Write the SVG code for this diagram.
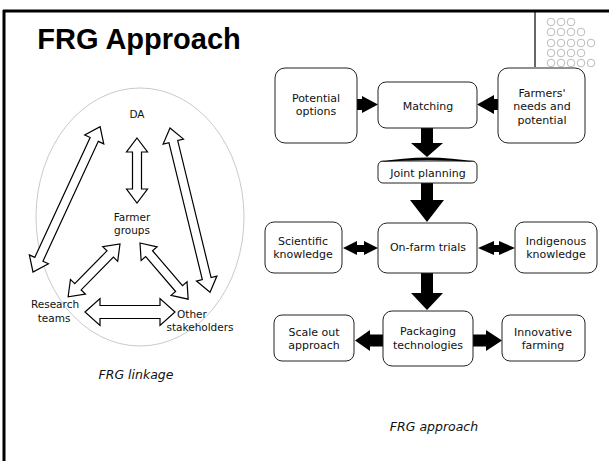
<svg xmlns="http://www.w3.org/2000/svg" width="609" height="461" viewBox="0 0 609 461">
<style>
  .t{font-family:"DejaVu Sans","Liberation Sans",sans-serif;fill:#111;text-anchor:middle}
  .bx{fill:#fff;stroke:#222;stroke-width:1}
  .ha{fill:#fff;stroke:#000;stroke-width:1.2;stroke-linejoin:miter}
  .sa{fill:#000;stroke:none}
  .dot{fill:none;stroke:#aaa;stroke-width:0.8}
  .lt{font-size:10.5px}
  .bt{font-size:11px}
  .cap{font-family:"DejaVu Sans","Liberation Sans",sans-serif;font-style:italic;font-size:12.5px;fill:#111;text-anchor:middle}
</style>
<rect width="609" height="461" fill="#fff"/>
<g id="frame">
  <line x1="3" y1="11" x2="609" y2="11" stroke="#000" stroke-width="3"/>
  <line x1="4" y1="10" x2="4" y2="461" stroke="#000" stroke-width="3"/>
  <line x1="535" y1="11" x2="535" y2="67" stroke="#000" stroke-width="1.2"/>
</g>
<g id="dots">
  <circle class="dot" cx="551" cy="22" r="3.8"/><circle class="dot" cx="561" cy="22" r="3.8"/><circle class="dot" cx="571" cy="22" r="3.8"/>
  <circle class="dot" cx="551" cy="32" r="3.8"/><circle class="dot" cx="561" cy="32" r="3.8"/><circle class="dot" cx="571" cy="32" r="3.8"/><circle class="dot" cx="581" cy="32" r="3.8"/>
  <circle class="dot" cx="551" cy="43" r="3.8"/><circle class="dot" cx="561" cy="43" r="3.8"/><circle class="dot" cx="571" cy="43" r="3.8"/><circle class="dot" cx="581" cy="43" r="3.8"/><circle class="dot" cx="591" cy="43" r="3.8"/>
  <circle class="dot" cx="551" cy="53" r="3.8"/><circle class="dot" cx="561" cy="53" r="3.8"/><circle class="dot" cx="571" cy="53" r="3.8"/><circle class="dot" cx="581" cy="53" r="3.8"/>
  <circle class="dot" cx="551" cy="63" r="3.8"/><circle class="dot" cx="561" cy="63" r="3.8"/><circle class="dot" cx="571" cy="63" r="3.8"/><circle class="dot" cx="581" cy="63" r="3.8"/><circle class="dot" cx="591" cy="63" r="3.8"/>
</g>
<text x="139" y="49" font-family="'Liberation Sans',sans-serif" font-weight="bold" font-size="29" text-anchor="middle" fill="#000">FRG Approach</text>

<g id="linkage">
  <ellipse cx="140" cy="217" rx="104" ry="129" fill="none" stroke="#bbb" stroke-width="0.8"/>
  <g id="connectors-left">
    <polygon class="ha" transform="translate(33,272) rotate(-65.2)" points="0,0 14,-10.5 14,-4.5 146,-4.5 146,-10.5 160,0 146,10.5 146,4.5 14,4.5 14,10.5"/>
    <polygon class="ha" transform="translate(137,138) rotate(90)" points="0,0 14,-10.5 14,-4.5 51,-4.5 51,-10.5 65,0 51,10.5 51,4.5 14,4.5 14,10.5"/>
    <polygon class="ha" transform="translate(170,128) rotate(76.3)" points="0,0 14,-10.5 14,-4.5 155,-4.5 155,-10.5 169,0 155,10.5 155,4.5 14,4.5 14,10.5"/>
    <polygon class="ha" transform="translate(120,244) rotate(134.5)" points="0,0 14,-10.5 14,-4.5 60,-4.5 60,-10.5 74,0 60,10.5 60,4.5 14,4.5 14,10.5"/>
    <polygon class="ha" transform="translate(140,243) rotate(49.4)" points="0,0 14,-10.5 14,-4.5 60,-4.5 60,-10.5 74,0 60,10.5 60,4.5 14,4.5 14,10.5"/>
    <polygon class="ha" transform="translate(85,312)" points="0,0 15,-13.5 15,-6.5 75,-6.5 75,-13.5 90,0 75,13.5 75,6.5 15,6.5 15,13.5"/>
  </g>
  <g id="n-da"><text class="t lt" x="137" y="118">DA</text></g>
  <g id="n-farmer-groups"><text class="t lt" x="132" y="221">Farmer</text><text class="t lt" x="132" y="234">groups</text></g>
  <g id="n-research"><text class="t lt" x="55" y="308">Research</text><text class="t lt" x="54" y="322">teams</text></g>
  <g id="n-other"><text class="t lt" x="192" y="318">Other</text><text class="t lt" x="200" y="331">stakeholders</text></g>
  <text class="cap" x="136" y="379">FRG linkage</text>
</g>

<g id="connectors">
  <polygon class="sa" points="357,99 362,99 362,96 378,104.5 362,113 362,110 357,110"/>
  <polygon class="sa" points="498,99 494,99 494,95 477,104.5 494,114 494,110 498,110"/>
  <polygon class="sa" points="421,128 433,128 433,143 443,143 427,157 411,143 421,143"/>
  <polygon class="sa" points="421,183 433,183 433,200 444,200 427,222 410,200 421,200"/>
  <polygon class="sa" points="421,273 433,273 433,293 443,293 427,310 411,293 421,293"/>
  <polygon class="sa" points="343,248 357,241 357,245 364,245 364,241 378,248 364,255 364,252 357,252 357,255"/>
  <polygon class="sa" points="478,248 494,241 494,245 499,245 499,241 515,248 499,255 499,252 494,252 494,255"/>
  <polygon class="sa" points="383,334.5 370,334.5 370,330 355,340.5 370,351 370,346.5 383,346.5"/>
  <polygon class="sa" points="473,334.5 486,334.5 486,330 502,340.5 486,351 486,346.5 473,346.5"/>
</g>

<g id="n-potential"><rect class="bx" x="275" y="68" width="82" height="75" rx="10"/><text class="t bt" x="316" y="102">Potential</text><text class="t bt" x="316" y="115">options</text></g>
<g id="n-matching"><rect class="bx" x="378" y="82" width="99" height="46" rx="8"/><text class="t bt" x="428" y="110">Matching</text></g>
<g id="n-farmers"><rect class="bx" x="498" y="68" width="87" height="75" rx="10"/><text class="t bt" x="542" y="97">Farmers'</text><text class="t bt" x="542" y="110">needs and</text><text class="t bt" x="542" y="124">potential</text></g>
<g id="n-joint"><rect class="bx" x="378" y="161" width="99" height="22" rx="5"/><path d="M379,162 Q428,153 476,162 Q428,158.5 379,162 Z" fill="#000"/><text class="t bt" x="428" y="177">Joint planning</text></g>
<g id="n-scientific"><rect class="bx" x="265" y="222" width="77" height="51" rx="9"/><text class="t bt" x="303" y="245">Scientific</text><text class="t bt" x="303" y="258">knowledge</text></g>
<g id="n-onfarm"><rect class="bx" x="378" y="223" width="99" height="50" rx="9"/><text class="t bt" x="428" y="251">On-farm trials</text></g>
<g id="n-indigenous"><rect class="bx" x="515" y="222" width="82" height="51" rx="9"/><text class="t bt" x="556" y="245">Indigenous</text><text class="t bt" x="556" y="258">knowledge</text></g>
<g id="n-scale"><rect class="bx" x="274" y="315" width="80" height="46" rx="8"/><text class="t bt" x="314" y="336">Scale out</text><text class="t bt" x="314" y="349">approach</text></g>
<g id="n-packaging"><rect class="bx" x="383" y="311" width="90" height="55" rx="9"/><text class="t bt" x="428" y="335">Packaging</text><text class="t bt" x="428" y="349">technologies</text></g>
<g id="n-innovative"><rect class="bx" x="502" y="315" width="83" height="46" rx="8"/><text class="t bt" x="543" y="336">Innovative</text><text class="t bt" x="543" y="349">farming</text></g>
<text class="cap" x="434" y="431">FRG approach</text>
</svg>
